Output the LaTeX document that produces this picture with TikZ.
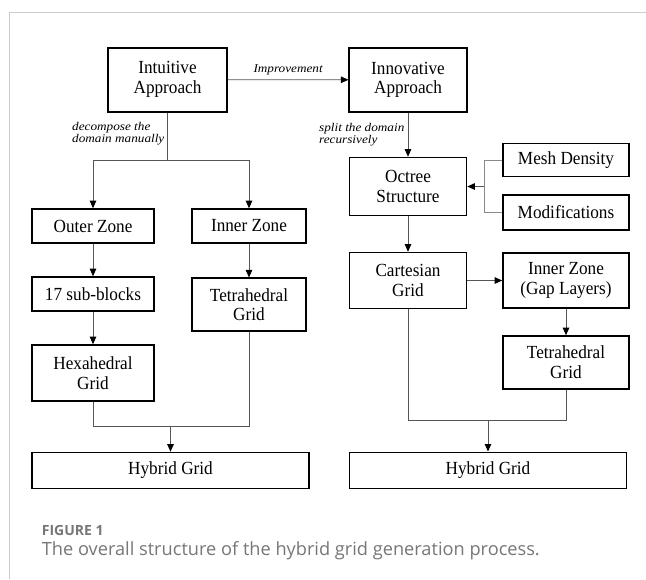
\documentclass[tikz,border=0pt]{standalone}
\usepackage{fontspec}
\setmainfont{Liberation Serif}
\newfontfamily\boxfont[FakeStretch=0.93]{Liberation Serif}
\newfontfamily\labfont[FakeStretch=1.12]{Liberation Serif}
\newfontfamily\capfont{Open Sans}
\usetikzlibrary{arrows.meta}
\definecolor{framegray}{HTML}{CCCCCC}
\definecolor{linkgray}{HTML}{555555}
\definecolor{sidegray}{HTML}{8A8A8A}
\definecolor{capgray}{HTML}{777777}
\tikzset{
  blk/.style={draw=black, line width=1.6pt, fill=white, inner sep=2pt, align=center,
    font=\boxfont\fontsize{18.5}{19.8}\selectfont},
  link/.style={draw=linkgray, line width=0.9pt},
  arr/.style={link, -{Triangle[length=7.5pt,width=6.5pt,color=black]}},
  lab/.style={inner sep=0pt, align=left, font=\labfont\itshape\fontsize{11.8}{10.6}\selectfont},
}
\begin{document}
\begin{tikzpicture}[x=1pt,y=-1pt]
\useasboundingbox (0,0) rectangle (646,579);
\fill[white] (0,0) rectangle (646,579);
% card frame (top and left edges)
\draw[framegray, line width=1.5pt] (9.5,579) -- (9.5,12.7) -- (646,12.7);

% left branch: intuitive approach
\node[blk, minimum width=119pt, minimum height=64pt] (intu) at (167.5,79.7) {Intuitive\\Approach};
\node[blk, minimum width=121.5pt, minimum height=34pt] (outer) at (93,226) {Outer Zone};
\node[blk, minimum width=114pt, minimum height=34pt] (innerL) at (249,226) {Inner Zone};
\node[blk, minimum width=121.5pt, minimum height=34pt] (sub) at (93,294) {17 sub-blocks};
\node[blk, minimum width=114pt, minimum height=53pt] (tetraL) at (249,304.7) {Tetrahedral\\Grid};
\node[blk, minimum width=121.5pt, minimum height=56pt] (hexa) at (93,373) {Hexahedral\\Grid};
\node[blk, minimum width=277pt, minimum height=36pt] (hybL) at (170.5,470.5) {Hybrid Grid};

% right branch: innovative approach
\node[blk, minimum width=117.5pt, minimum height=64pt] (innov) at (408,79.8) {Innovative\\Approach};
\node[blk, minimum width=117pt, minimum height=58pt] (octree) at (408,186.5) {Octree\\Structure};
\node[blk, minimum width=126pt, minimum height=33pt] (mesh) at (566,160) {Mesh Density};
\node[blk, minimum width=126pt, minimum height=35pt] (modif) at (566,212.4) {Modifications};
\node[blk, minimum width=117pt, minimum height=56pt] (cart) at (408,280.5) {Cartesian\\Grid};
\node[blk, minimum width=126pt, minimum height=55pt] (innerR) at (566,280.5) {Inner Zone\\(Gap Layers)};
\node[blk, minimum width=126pt, minimum height=53pt] (tetraR) at (566,362.5) {Tetrahedral\\Grid};
\node[blk, minimum width=277pt, minimum height=36pt] (hybR) at (488,470.3) {Hybrid Grid};

% junction points
\coordinate (split) at (167.5,160);
\coordinate (joinL) at (170.5,426.3);
\coordinate (joinR) at (488,420.7);
\coordinate (feed) at (484,186.5);

% connectors
\draw[arr] (intu) -- (innov) node[lab, pos=0.5, anchor=base, yshift=7.5pt] (lImp) {Improvement};
\draw[link] (intu.south) -- (split);
\draw[arr] (split) -| (outer.north);
\draw[arr] (split) -| (innerL.north);
\draw[arr] (outer) -- (sub);
\draw[arr] (sub) -- (hexa);
\draw[arr] (innerL) -- (tetraL);
\draw[link] (hexa.south) |- (joinL) -| (tetraL.south);
\draw[arr] (joinL) -- (hybL.north);

\draw[arr] (innov) -- (octree);
\draw[link, draw=sidegray] (mesh.west) -| (feed);
\draw[link, draw=sidegray] (modif.west) -| (feed);
\draw[arr] (feed) -- (octree.east);
\draw[arr] (octree) -- (cart);
\draw[arr] (cart) -- (innerR);
\draw[arr] (innerR) -- (tetraR);
\draw[link] (cart.south) |- (joinR) -| (tetraR.south);
\draw[arr] (joinR) -- (hybR.north);

% edge labels
\node[lab, anchor=north west] (lDec) at (72,122.5) {decompose the\\domain manually};
\node[lab, anchor=north west] (lSplit) at (319,123) {split the domain\\recursively};

% caption
\node[anchor=base west, inner sep=0pt, text=capgray,
  font=\capfont\bfseries\fontsize{14}{16}\selectfont] (figno) at (41.7,535) {FIGURE 1};
\node[anchor=base west, inner sep=0pt, text=capgray,
  font=\capfont\fontsize{18.2}{20}\selectfont] (cap) at (41.7,555)
  {The overall structure of the hybrid grid generation process.};
\end{tikzpicture}
\end{document}
